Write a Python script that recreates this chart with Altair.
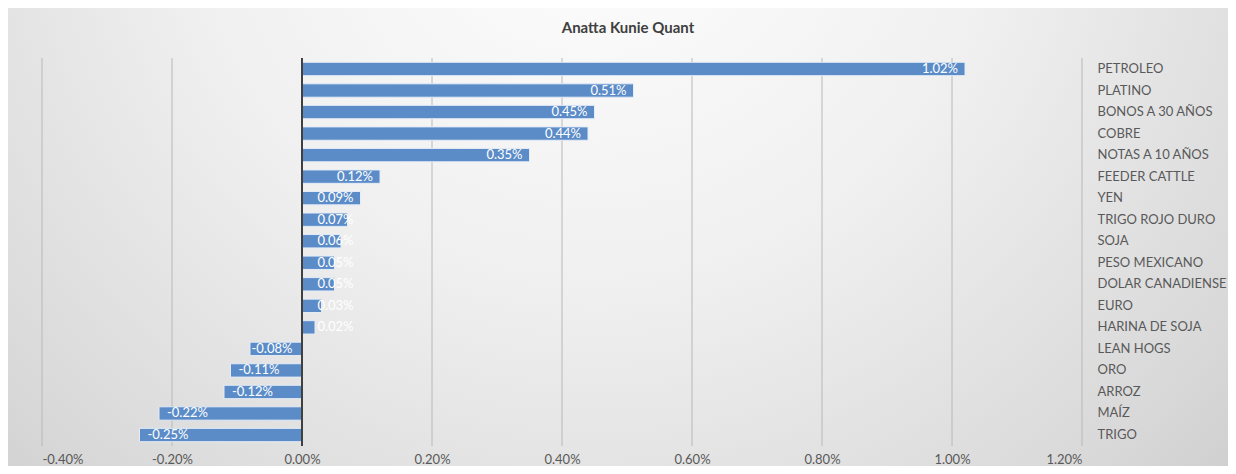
import altair as alt
import pandas as pd

categories = ["PETROLEO", "PLATINO", "BONOS A 30 AÑOS", "COBRE", "NOTAS A 10 AÑOS",
              "FEEDER CATTLE", "YEN", "TRIGO ROJO DURO", "SOJA", "PESO MEXICANO",
              "DOLAR CANADIENSE", "EURO", "HARINA DE SOJA", "LEAN HOGS", "ORO",
              "ARROZ", "MAÍZ", "TRIGO"]
values_pct = [1.02, 0.51, 0.45, 0.44, 0.35, 0.12, 0.09, 0.07, 0.06, 0.05,
              0.05, 0.03, 0.02, -0.08, -0.11, -0.12, -0.22, -0.25]
tick_values_pct = [-0.40, -0.20, 0.00, 0.20, 0.40, 0.60, 0.80, 1.00, 1.20]

df = pd.DataFrame({"cat": categories, "v": [v / 100 for v in values_pct]})
ticks = [t / 100 for t in tick_values_pct]
grid_df = pd.DataFrame({"t": ticks})

W, H = 1040, 388
PAD = {"left": 34, "top": 50, "right": 146, "bottom": 20}
FONT = "Lato"

bg_grad = alt.Gradient(
    gradient="radial",
    stops=[alt.GradientStop(color="#ffffff", offset=0),
           alt.GradientStop(color="#f0f0f0", offset=0.45),
           alt.GradientStop(color="#d8d8d8", offset=0.85),
           alt.GradientStop(color="#cccccc", offset=1)],
    x1=0.48, y1=0.2, x2=0.48, y2=0.2, r1=0, r2=0.75,
)

background = alt.Chart(pd.DataFrame({"a": [0]})).mark_rect(color=bg_grad).encode(
    x=alt.value(-PAD["left"]), x2=alt.value(W + PAD["right"]),
    y=alt.value(-PAD["top"]), y2=alt.value(H + PAD["bottom"]),
)

xscale = alt.Scale(domain=[ticks[0], ticks[-1]], nice=False, zero=False)
xaxis = alt.Axis(values=ticks, format=".2%", title=None, domain=False, ticks=False,
                 grid=False, labelFontSize=13, labelFont=FONT, labelColor="#595959",
                 labelPadding=7, zindex=2,
                 labelExpr="replace(datum.label, '\u2212', '-')")

gridlines = alt.Chart(grid_df).mark_rule(color="#b8b8b8", strokeWidth=1).encode(
    x=alt.X("t:Q", scale=xscale, axis=xaxis)
)

yenc = alt.Y("cat:N", sort=categories,
             scale=alt.Scale(paddingInner=0.38, paddingOuter=0.2),
             axis=alt.Axis(orient="right", title=None, domain=False, ticks=False, grid=False,
                           labelAlign="left", labelPadding=15, labelFontSize=13,
                           labelFont=FONT, labelColor="#595959", zindex=2))

bars = alt.Chart(df).mark_bar(color="#5b8cc8", stroke="#e4ecf6", strokeWidth=1).encode(
    x=alt.X("v:Q", scale=xscale, axis=xaxis),
    y=yenc,
)

zero_line = alt.Chart(pd.DataFrame({"z": [0.0]})).mark_rule(color="#404040", strokeWidth=2).encode(
    x=alt.X("z:Q", scale=xscale, axis=xaxis)
)

lab_base = alt.Chart(df).transform_calculate(
    lx="datum.v > 0 ? max(datum.v, 0.0009) : min(datum.v, -0.0009)",
    lt="replace(format(datum.v, '.2%'), '\u2212', '-')",
)
pos_labels = lab_base.transform_filter("datum.v > 0").mark_text(
    align="right", dx=-7, color="white", fontSize=13, font=FONT, baseline="middle"
).encode(x=alt.X("lx:Q", scale=xscale, axis=xaxis), y=alt.Y("cat:N", sort=categories),
         text="lt:N")
neg_labels = lab_base.transform_filter("datum.v < 0").mark_text(
    align="left", dx=8, color="white", fontSize=13, font=FONT, baseline="middle"
).encode(x=alt.X("lx:Q", scale=xscale, axis=xaxis), y=alt.Y("cat:N", sort=categories),
         text="lt:N")

chart = alt.layer(background, gridlines, bars, zero_line, pos_labels, neg_labels).properties(
    width=W, height=H,
    title=alt.TitleParams("Anatta Kunie Quant", fontSize=15, font=FONT, fontWeight="bold",
                          color="#404040", anchor="middle", dx=66, offset=-28, zindex=2),
    padding=PAD,
    autosize=alt.AutoSizeParams(type="none"),
).configure_view(stroke=None).configure(background="#d8d8d8")

chart.save("out.html", embed_options={"renderer": "svg", "actions": False})
